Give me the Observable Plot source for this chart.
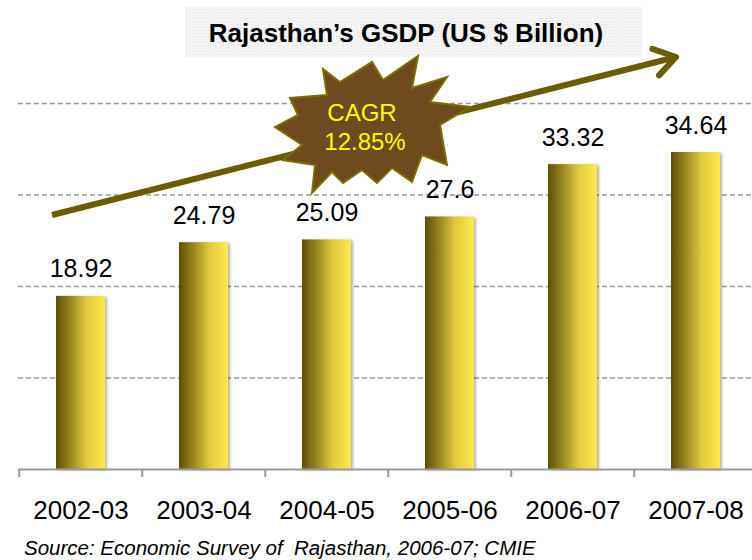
<!DOCTYPE html>
<html><head><meta charset="utf-8">
<script src="https://cdn.jsdelivr.net/npm/d3@7"></script>
<script src="https://cdn.jsdelivr.net/npm/@observablehq/plot@0.6"></script>
<style>body{margin:0;background:#fff;} svg{display:block}</style>
</head><body><div id="chart"></div>
<script>
const years = ["2002-03", "2003-04", "2004-05", "2005-06", "2006-07", "2007-08"];
const gsdp = [18.92, 24.79, 25.09, 27.6, 33.32, 34.64];
const gridValues = [10, 20, 30, 40];
const titleText = "Rajasthan’s GSDP (US $ Billion)";
const cagrLines = ["CAGR", "12.85%"];
const sourceText = "Source: Economic Survey of  Rajasthan, 2006-07; CMIE";

const FONT = "Liberation Sans, Arial, Helvetica, sans-serif";
const data = years.map((y, i) => ({year: y, value: gsdp[i]}));

const plot = Plot.plot({
  width: 752, height: 560,
  marginTop: 103, marginBottom: 91, marginLeft: 18, marginRight: -7,
  style: {fontFamily: FONT, background: "white", color: "black", overflow: "visible"},
  x: {domain: years, paddingInner: 0.6, paddingOuter: 0.3, label: null},
  y: {domain: [0, 40], axis: null},
  marks: [
    Plot.ruleY(gridValues, {stroke: "#9a9a9a", strokeWidth: 1.5, strokeDasharray: "5,3"}),
    Plot.barY(data, {x: "year", y: "value", fill: "url(#barGrad)"}),
    Plot.ruleY([0], {stroke: "#9a9a9a", strokeWidth: 2}),
    Plot.text(data, {x: "year", y: "value", text: d => String(d.value), dy: -27, fontSize: 25, fill: "black"}),
    Plot.axisX({tickSize: 0, tickPadding: 31, fontSize: 26, label: null, fill: "black"})
  ]
});
document.getElementById("chart").appendChild(plot);

const svg = d3.select(plot);
const defs = svg.insert("defs", ":first-child");
const grad = defs.append("linearGradient").attr("id", "barGrad").attr("x1", "0").attr("x2", "1").attr("y1", "0").attr("y2", "0");
[["0%", "#5e4f00"], ["30%", "#9a8720"], ["62%", "#e0c93e"], ["100%", "#ffea4a"]].forEach(([o, c]) =>
  grad.append("stop").attr("offset", o).attr("stop-color", c));
const f = defs.append("filter").attr("id", "barShadow").attr("x", "-10%").attr("y", "-10%").attr("width", "130%").attr("height", "120%");
f.append("feDropShadow").attr("dx", 2).attr("dy", 1).attr("stdDeviation", 1.5).attr("flood-color", "#000").attr("flood-opacity", 0.3);
svg.selectAll('g[aria-label="bar"] rect').attr("filter", "url(#barShadow)");

const pat = defs.append("pattern").attr("id", "titlePat").attr("width", 3).attr("height", 3).attr("patternUnits", "userSpaceOnUse");
pat.append("rect").attr("width", 3).attr("height", 3).attr("fill", "#f4f4f4");
pat.append("rect").attr("width", 1).attr("height", 1).attr("fill", "#e3e3e3");

// ticks at band boundaries
const xs = plot.scale("x");
const ys = plot.scale("y");
const step = xs.bandwidth / (1 - 0.6);
const y0 = ys.apply(0);
const tg = svg.append("g");
years.forEach(yr => {
  const bx = xs.apply(yr) - 0.3 * step;
  tg.append("line").attr("x1", bx).attr("x2", bx).attr("y1", y0).attr("y2", y0 + 8)
    .attr("stroke", "#9a9a9a").attr("stroke-width", 2);
});

// title
svg.append("rect").attr("x", 185).attr("y", 7).attr("width", 457).attr("height", 50).attr("fill", "url(#titlePat)");
svg.append("text").attr("x", 406).attr("y", 42).attr("text-anchor", "middle")
  .attr("font-family", FONT).attr("font-weight", "bold").attr("font-size", 26).attr("fill", "black").text(titleText);

// growth arrow
const ax1 = 52, ay1 = 215, ax2 = 676, ay2 = 57;
const ang = Math.atan2(ay2 - ay1, ax2 - ax1);
const L = 25, a = 33 * Math.PI / 180;
const h1 = [ax2 - L * Math.cos(ang - a), ay2 - L * Math.sin(ang - a)];
const h2 = [ax2 - L * Math.cos(ang + a), ay2 - L * Math.sin(ang + a)];
const ag = svg.append("g").attr("stroke", "#6b5c00").attr("stroke-width", 6).attr("fill", "none")
  .attr("stroke-linecap", "round").attr("stroke-linejoin", "round");
ag.append("line").attr("x1", ax1).attr("y1", ay1).attr("x2", ax2 - 3 * Math.cos(ang)).attr("y2", ay2 - 3 * Math.sin(ang)).attr("stroke-linecap", "butt");
ag.append("path").attr("d", `M${h1[0]},${h1[1]}L${ax2},${ay2}L${h2[0]},${h2[1]}`);

// starburst
const star = [[323,69],[340,82],[372,62],[383,80],[418,56],[412,88],[447,77],[430,102],[470,107],[440,125],
  [447,165],[422,155],[412,182],[392,168],[377,183],[362,170],[343,183],[332,172],[312,193],[315,165],
  [283,160],[302,145],[275,127],[298,115],[290,98],[327,95]];
svg.append("path").attr("d", "M" + star.map(p => p.join(",")).join("L") + "Z")
  .attr("fill", "#6e4a1e").attr("stroke", "#7a6e00").attr("stroke-width", 2).attr("stroke-linejoin", "miter");
svg.append("text").attr("x", 362).attr("y", 121).attr("text-anchor", "middle").attr("font-family", FONT)
  .attr("font-size", 24).attr("fill", "#ffff00").text(cagrLines[0]);
svg.append("text").attr("x", 365).attr("y", 150).attr("text-anchor", "middle").attr("font-family", FONT)
  .attr("font-size", 24).attr("fill", "#ffff00").text(cagrLines[1]);

// source
svg.append("text").attr("x", 24).attr("y", 555).attr("text-anchor", "start").attr("font-family", FONT).attr("font-style", "italic")
  .attr("font-size", 20.5).attr("fill", "black").style("white-space", "pre").text(sourceText);
</script></body></html>
